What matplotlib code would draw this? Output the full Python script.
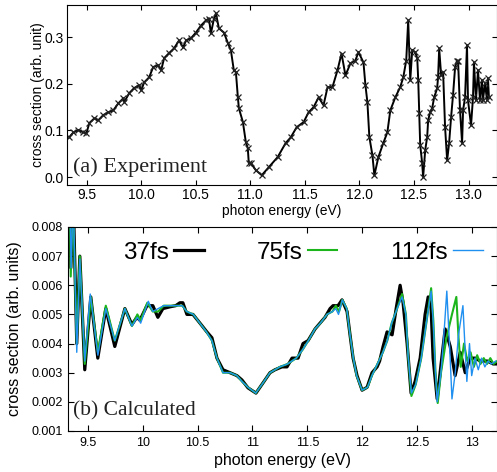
import matplotlib
matplotlib.use("Agg")
import matplotlib.pyplot as plt
import numpy as np

plt.rcParams['font.family'] = ['Liberation Sans', 'DejaVu Sans']

# ---------------- (a) Experiment ----------------
exp_energy = [9.342, 9.379, 9.425, 9.470, 9.498, 9.525, 9.571, 9.607, 9.653, 9.699,
              9.744, 9.790, 9.836, 9.845, 9.890, 9.936, 9.982, 10.000, 10.027, 10.073,
              10.110, 10.155, 10.183, 10.210, 10.256, 10.301, 10.347, 10.384, 10.411, 10.457,
              10.502, 10.548, 10.594, 10.621, 10.639, 10.667, 10.685, 10.712, 10.758, 10.795,
              10.822, 10.849, 10.868, 10.886, 10.895, 10.932, 10.959, 10.977, 10.986, 11.005,
              11.050, 11.105, 11.169, 11.251, 11.324, 11.370, 11.425, 11.489, 11.534, 11.580,
              11.626, 11.671, 11.708, 11.753, 11.799, 11.836, 11.872, 11.918, 11.963, 11.991,
              12.037, 12.055, 12.073, 12.091, 12.119, 12.137, 12.174, 12.219, 12.256, 12.283,
              12.329, 12.374, 12.402, 12.429, 12.447, 12.466, 12.484, 12.511, 12.530, 12.539,
              12.548, 12.557, 12.575, 12.584, 12.603, 12.621, 12.630, 12.648, 12.667, 12.685,
              12.712, 12.721, 12.731, 12.749, 12.767, 12.785, 12.804, 12.822, 12.840, 12.858,
              12.877, 12.895, 12.904, 12.922, 12.941, 12.950, 12.968, 12.986, 12.995, 13.023,
              13.041, 13.050, 13.068, 13.087, 13.105, 13.123, 13.132, 13.151, 13.169, 13.178,
              13.187]
exp_value = [0.086, 0.096, 0.101, 0.096, 0.094, 0.116, 0.126, 0.122, 0.133, 0.139,
             0.143, 0.158, 0.169, 0.161, 0.180, 0.191, 0.197, 0.186, 0.203, 0.214,
             0.236, 0.240, 0.229, 0.255, 0.266, 0.276, 0.293, 0.278, 0.293, 0.298,
             0.310, 0.325, 0.336, 0.340, 0.308, 0.340, 0.351, 0.319, 0.310, 0.287,
             0.272, 0.229, 0.225, 0.171, 0.148, 0.118, 0.075, 0.062, 0.030, 0.030,
             0.015, 0.004, 0.021, 0.043, 0.073, 0.085, 0.107, 0.118, 0.139, 0.150,
             0.171, 0.154, 0.193, 0.193, 0.229, 0.265, 0.218, 0.244, 0.250, 0.268,
             0.246, 0.197, 0.161, 0.086, 0.047, 0.004, 0.043, 0.073, 0.096, 0.143,
             0.171, 0.193, 0.214, 0.250, 0.336, 0.208, 0.272, 0.268, 0.255, 0.208,
             0.137, 0.069, 0.030, 0.000, 0.058, 0.086, 0.122, 0.139, 0.148, 0.171,
             0.190, 0.214, 0.276, 0.218, 0.225, 0.107, 0.036, 0.073, 0.128, 0.176,
             0.236, 0.250, 0.250, 0.143, 0.073, 0.143, 0.171, 0.283, 0.165, 0.111,
             0.171, 0.246, 0.165, 0.229, 0.165, 0.208, 0.165, 0.201, 0.165, 0.212,
             0.171]

# ---------------- (b) Calculated ----------------
e37 = [9.315, 9.333, 9.343, 9.365, 9.397, 9.425, 9.470, 9.525, 9.589, 9.662,
       9.744, 9.836, 9.900, 9.945, 9.973, 10.037, 10.091, 10.137, 10.183, 10.247,
       10.300, 10.338, 10.365, 10.402, 10.457, 10.521, 10.584, 10.630, 10.676, 10.731,
       10.795, 10.858, 10.904, 10.959, 11.032, 11.087, 11.160, 11.205, 11.269, 11.315,
       11.361, 11.416, 11.461, 11.507, 11.571, 11.616, 11.662, 11.708, 11.735, 11.781,
       11.817, 11.863, 11.890, 11.918, 11.954, 12.000, 12.046, 12.091, 12.137, 12.160,
       12.192, 12.228, 12.274, 12.311, 12.347, 12.374, 12.411, 12.447, 12.484, 12.530,
       12.575, 12.603, 12.630, 12.648, 12.685, 12.721, 12.758, 12.804, 12.849, 12.895,
       12.941, 12.986, 13.032, 13.078, 13.142, 13.196, 13.233]
v37 = [0.0095, 0.0095, 0.0066, 0.0090, 0.0040, 0.0070, 0.0031, 0.0056, 0.0035, 0.0052,
       0.0039, 0.0052, 0.00465, 0.0049, 0.0048, 0.0053, 0.0053, 0.0049, 0.0052, 0.00526,
       0.0053, 0.0054, 0.0054, 0.0050, 0.0050, 0.0047, 0.0044, 0.0042, 0.0035, 0.0031,
       0.0030, 0.0029, 0.00275, 0.00248, 0.0023, 0.0026, 0.0030, 0.0031, 0.0032, 0.0032,
       0.0035, 0.0035, 0.0040, 0.0041, 0.0045, 0.0047, 0.0049, 0.0052, 0.0053, 0.0053,
       0.0055, 0.0051, 0.0043, 0.0035, 0.0029, 0.0024, 0.0025, 0.0030, 0.0032, 0.0034,
       0.0039, 0.0044, 0.0043, 0.0052, 0.0060, 0.0054, 0.0040, 0.0023, 0.0027, 0.0035,
       0.0050, 0.0056, 0.0052, 0.0035, 0.0021, 0.0033, 0.0045, 0.0039, 0.0029, 0.0037,
       0.0030, 0.0035, 0.0035, 0.0034, 0.0034, 0.0033, 0.0033]

e75 = [9.315, 9.333, 9.342, 9.362, 9.397, 9.425, 9.470, 9.525, 9.589, 9.662,
       9.744, 9.836, 9.900, 9.950, 9.980, 10.040, 10.090, 10.140, 10.190, 10.250,
       10.300, 10.360, 10.400, 10.460, 10.520, 10.580, 10.630, 10.676, 10.731, 10.795,
       10.858, 10.904, 10.959, 11.030, 11.087, 11.160, 11.250, 11.320, 11.400, 11.460,
       11.510, 11.570, 11.620, 11.680, 11.730, 11.760, 11.790, 11.820, 11.860, 11.890,
       11.920, 11.950, 12.000, 12.050, 12.090, 12.140, 12.190, 12.230, 12.270, 12.320,
       12.365, 12.400, 12.420, 12.450, 12.490, 12.540, 12.590, 12.630, 12.650, 12.670,
       12.690, 12.720, 12.770, 12.820, 12.860, 12.880, 12.900, 12.930, 12.960, 12.990,
       13.020, 13.050, 13.080, 13.110, 13.140, 13.170, 13.200, 13.233]
v75 = [0.0095, 0.0095, 0.0063, 0.0090, 0.0040, 0.0070, 0.0033, 0.0056, 0.0037, 0.0053,
       0.0041, 0.0052, 0.0046, 0.0050, 0.0048, 0.0054, 0.0051, 0.0051, 0.0053, 0.0053,
       0.0053, 0.0053, 0.0051, 0.0050, 0.0047, 0.0044, 0.0041, 0.0035, 0.0030, 0.0030,
       0.0029, 0.0027, 0.0025, 0.0023, 0.0026, 0.0030, 0.0032, 0.0033, 0.0035, 0.0038,
       0.0041, 0.0045, 0.0047, 0.0050, 0.0051, 0.0053, 0.0051, 0.0055, 0.0052, 0.0043,
       0.0035, 0.0029, 0.0024, 0.0025, 0.0029, 0.0033, 0.0037, 0.0041, 0.0047, 0.0052,
       0.0057, 0.0050, 0.0036, 0.0022, 0.0026, 0.0035, 0.0048, 0.0059, 0.0048, 0.0030,
       0.00196, 0.0030, 0.0042, 0.0050, 0.0056, 0.0042, 0.0032, 0.0040, 0.0034, 0.0037,
       0.0032, 0.0036, 0.0033, 0.0035, 0.0033, 0.0035, 0.0033, 0.0034]

e112 = [9.315, 9.333, 9.345, 9.365, 9.397, 9.425, 9.470, 9.520, 9.590, 9.662,
        9.744, 9.836, 9.900, 9.950, 9.980, 10.050, 10.090, 10.140, 10.190, 10.250,
        10.300, 10.360, 10.400, 10.460, 10.520, 10.580, 10.630, 10.676, 10.731, 10.795,
        10.858, 10.904, 10.959, 11.030, 11.087, 11.160, 11.250, 11.320, 11.400, 11.460,
        11.510, 11.570, 11.620, 11.680, 11.730, 11.760, 11.785, 11.820, 11.860, 11.890,
        11.920, 11.950, 12.000, 12.050, 12.090, 12.140, 12.190, 12.230, 12.270, 12.320,
        12.365, 12.400, 12.420, 12.450, 12.490, 12.540, 12.590, 12.630, 12.650, 12.670,
        12.685, 12.720, 12.750, 12.773, 12.800, 12.820, 12.850, 12.880, 12.920, 12.940,
        12.956, 12.980, 13.000, 13.030, 13.060, 13.090, 13.120, 13.150, 13.180, 13.220]
v112 = [0.0095, 0.0095, 0.0066, 0.0090, 0.0037, 0.0069, 0.0034, 0.0057, 0.0036, 0.0052,
        0.0041, 0.0052, 0.0046, 0.0049, 0.0047, 0.00545, 0.0051, 0.0052, 0.0053, 0.0053,
        0.0053, 0.0053, 0.0051, 0.0050, 0.0047, 0.0044, 0.0041, 0.0035, 0.0030, 0.0030,
        0.0029, 0.0027, 0.0025, 0.0023, 0.0026, 0.0030, 0.0032, 0.0033, 0.0035, 0.0038,
        0.0041, 0.0045, 0.0047, 0.0050, 0.0051, 0.0052, 0.0050, 0.0055, 0.0052, 0.0043,
        0.0035, 0.0029, 0.0024, 0.0025, 0.0029, 0.0033, 0.0037, 0.0041, 0.0047, 0.0052,
        0.0056, 0.0050, 0.0036, 0.0023, 0.0026, 0.0035, 0.0048, 0.0058, 0.0047, 0.0030,
        0.0020, 0.0030, 0.0045, 0.0058, 0.0038, 0.0021, 0.0030, 0.0043, 0.0053, 0.0038,
        0.0027, 0.0040, 0.0029, 0.0035, 0.0031, 0.0035, 0.0032, 0.0034, 0.0033, 0.0034]

series_labels = ['37fs', '75fs', '112fs']
series_colors = ['#000000', '#1cb51c', '#1f8ff0']
series_widths = [2.3, 1.5, 1.0]

exp_xticks = [9.5, 10.0, 10.5, 11.0, 11.5, 12.0, 12.5, 13.0]
exp_yticks = [0.0, 0.1, 0.2, 0.3]
calc_xticks = [9.5, 10, 10.5, 11, 11.5, 12, 12.5, 13]
calc_xticklabels = ['9.5', '10', '10.5', '11', '11.5', '12', '12.5', '13']
calc_yticks = [0.001, 0.002, 0.003, 0.004, 0.005, 0.006, 0.007, 0.008]

fig = plt.figure(figsize=(4.97, 4.72), dpi=100)

# top panel
ax1 = fig.add_axes([0.1348, 0.608, 0.865, 0.3814])
ax1.plot(exp_energy, exp_value, color='black', lw=1.4, marker='x', ms=4.5,
         mew=0.9, mec='#222222')
ax1.set_xlim(9.32, 13.26)
ax1.set_ylim(-0.017, 0.369)
ax1.set_xticks(exp_xticks)
ax1.set_xticklabels([f'{t:.1f}' for t in exp_xticks])
ax1.set_yticks(exp_yticks)
ax1.set_yticklabels([f'{t:.1f}' for t in exp_yticks])
ax1.tick_params(direction='in', top=True, right=True, labelsize=10, length=3.5,
                pad=2.5)
ax1.set_xlabel('photon energy (eV)', fontsize=10, labelpad=1)
ax1.set_ylabel('cross section (arb. unit)', fontsize=10)
ax1.yaxis.set_label_coords(-0.051, 0.5)
ax1.text(0.014, 0.072, '(a) Experiment', transform=ax1.transAxes,
         fontsize=16, family='Liberation Serif', color='#222222')

# bottom panel
ax2 = fig.add_axes([0.1368, 0.0869, 0.863, 0.4322])
for e, v, lab, c, w in zip([e37, e75, e112], [v37, v75, v112], series_labels,
                           series_colors, series_widths):
    ax2.plot(e, v, color=c, lw=w, label=lab)
ax2.set_xlim(9.317, 13.23)
ax2.set_ylim(0.001, 0.008)
ax2.set_xticks(calc_xticks)
ax2.set_xticklabels(calc_xticklabels)
ax2.set_yticks(calc_yticks)
ax2.set_yticklabels([f'{t:.3f}' for t in calc_yticks])
ax2.tick_params(direction='in', top=True, right=True, labelsize=9, length=4,
                pad=4)
ax2.set_xlabel('photon energy (eV)', fontsize=11.5, labelpad=3)
ax2.set_ylabel('cross section (arb. units)', fontsize=11.5)
ax2.yaxis.set_label_coords(-0.107, 0.5)
ax2.text(0.012, 0.078, '(b) Calculated', transform=ax2.transAxes,
         fontsize=15.5, family='Liberation Serif', color='#222222')
ax2.legend(loc='center', bbox_to_anchor=(0.548, 0.873), ncol=3,
           frameon=False, markerfirst=False, fontsize=17.5, handlelength=1.23,
           handletextpad=0.2, columnspacing=2.17, borderaxespad=0, borderpad=0)

fig.savefig('out.png', dpi=100)
